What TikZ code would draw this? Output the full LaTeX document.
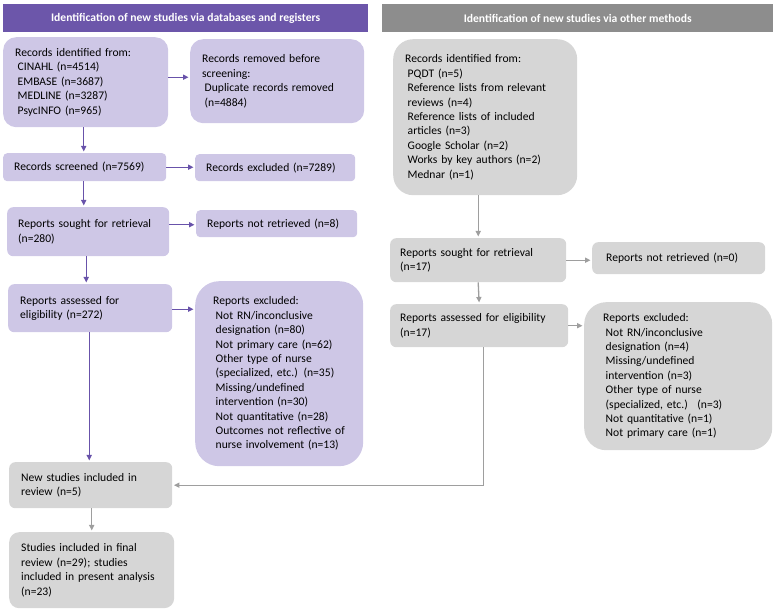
\documentclass[tikz,border=0pt]{standalone}
\usepackage{fontspec}
\setmainfont{Carlito}
\usetikzlibrary{arrows.meta, positioning, calc}

\definecolor{headpurple}{RGB}{108,86,170}
\definecolor{headgray}{RGB}{141,141,141}
\definecolor{boxpurple}{RGB}{206,199,230}
\definecolor{boxgray}{RGB}{214,214,214}
\definecolor{linepurple}{RGB}{104,82,170}
\definecolor{linegray}{RGB}{158,158,158}

\newcommand{\ind}{\hspace*{2.5pt}}

\begin{document}
\begin{tikzpicture}[x=1pt, y=-1pt,
    % Section header style
    headbox/.style={
        rectangle,
        anchor=north west,
        inner sep=0pt,
        minimum height=28pt,
        text=white,
        font=\fontsize{11.6}{13}\selectfont\bfseries
    },
    % Purple step box
    pbox/.style={
        rectangle,
        anchor=north west,
        rounded corners=4pt,
        fill=boxpurple,
        align=left,
        inner xsep=11pt,
        inner ysep=0pt,
        font=\fontsize{11.6}{14.4}\selectfont
    },
    % Gray step box
    gbox/.style={
        pbox,
        fill=boxgray
    },
    % Arrow styles
    parrow/.style={
        -{Triangle[length=5.5pt, width=5pt]},
        line width=1.3pt,
        linepurple,
        shorten >=1.5pt
    },
    garrow/.style={
        parrow,
        linegray
    }
]

\useasboundingbox (0,0) rectangle (780,609);

% === Headers ===
\node[headbox, fill=headpurple, minimum width=365pt] (dbhead) at (3,4) {Identification of new studies via databases and registers};
\node[headbox, fill=headgray, minimum width=391pt] (othhead) at (382,4) {Identification of new studies via other methods};

% === Databases and registers ===
\node[pbox, rounded corners=13pt, minimum width=165pt, minimum height=90pt, text width=141pt, inner xsep=12pt] (recdb) at (3,37)
    {Records identified from:\\ \ind CINAHL (n=4514)\\ \ind EMBASE (n=3687)\\ \ind MEDLINE (n=3287)\\ \ind PsycINFO (n=965)};
\node[pbox, rounded corners=13pt, minimum width=174pt, minimum height=84pt, text width=150pt, inner xsep=12pt] (removed) at (190,39)
    {Records removed before\\ screening:\\ \ind Duplicate records removed\\ \ind (n=4884)};
\node[pbox, minimum width=163pt, minimum height=28pt, text width=141pt] (screened) at (3,153) {Records screened (n=7569)};
\node[pbox, minimum width=160pt, minimum height=27pt, text width=138pt] (excluded) at (195,154) {Records excluded (n=7289)};
\node[pbox, rounded corners=6pt, minimum width=162pt, minimum height=49pt, text width=140pt] (sought) at (7,207) {Reports sought for retrieval\\ (n=280)};
\node[pbox, minimum width=161pt, minimum height=27pt, text width=139pt] (notret) at (196,210) {Reports not retrieved (n=8)};
\node[pbox, rounded corners=6pt, minimum width=162pt, minimum height=48pt, text width=140pt, inner xsep=12pt] (assessed) at (8,284) {Reports assessed for\\ eligibility (n=272)};
\node[pbox, rounded corners=24pt, minimum width=168pt, minimum height=185pt, text width=132pt, inner xsep=18pt] (rexcl) at (195,281)
    {Reports excluded:\\ \ind Not RN/inconclusive\\ \ind designation (n=80)\\ \ind Not primary care (n=62)\\ \ind Other type of nurse\\ \ind (specialized, etc.) (n=35)\\ \ind Missing/undefined\\ \ind intervention (n=30)\\ \ind Not quantitative (n=28)\\ \ind Outcomes not reflective of\\ \ind nurse involvement (n=13)};

% === Other methods ===
\node[gbox, rounded corners=20pt, minimum width=184pt, minimum height=156pt, text width=160pt, inner xsep=12pt] (recoth) at (393,39)
    {Records identified from:\\ \ind PQDT (n=5)\\ \ind Reference lists from relevant\\ \ind reviews (n=4)\\ \ind Reference lists of included\\ \ind articles (n=3)\\ \ind Google Scholar (n=2)\\ \ind Works by key authors (n=2)\\ \ind Mednar (n=1)};
\node[gbox, rounded corners=6pt, minimum width=176pt, minimum height=44pt, text width=156pt, inner xsep=10pt] (sought2) at (390,238) {Reports sought for retrieval\\ (n=17)};
\node[gbox, rounded corners=6pt, minimum width=173pt, minimum height=32pt, text width=145pt, inner xsep=14pt] (notret2) at (592,242) {Reports not retrieved (n=0)};
\node[gbox, rounded corners=6pt, minimum width=178pt, minimum height=43pt, text width=158pt, inner xsep=10pt] (assessed2) at (390,304) {Reports assessed for eligibility\\ (n=17)};
\node[gbox, rounded corners=22pt, minimum width=188pt, minimum height=148pt, text width=150pt, inner xsep=19pt] (rexcl2) at (584,302)
    {Reports excluded:\\ \ind Not RN/inconclusive\\ \ind designation (n=4)\\ \ind Missing/undefined\\ \ind intervention (n=3)\\ \ind Other type of nurse\\ \ind (specialized, etc.)~ (n=3)\\ \ind Not quantitative (n=1)\\ \ind Not primary care (n=1)};

% === Included ===
\node[gbox, rounded corners=6pt, minimum width=163pt, minimum height=46pt, text width=139pt, inner xsep=12pt] (newstud) at (9,462) {New studies included in\\ review (n=5)};
\node[gbox, rounded corners=10pt, minimum width=165pt, minimum height=76pt, text width=141pt, inner xsep=12pt] (final) at (9,532)
    {Studies included in final\\ review (n=29); studies\\ included in present analysis\\ (n=23)};

% === Arrows: databases and registers ===
\draw[parrow] ([xshift=-2pt]recdb.south) -- ([xshift=-2pt]recdb.south |- screened.north);
\draw[parrow] ([yshift=5pt]recdb.east) -- ([yshift=5pt]recdb.east -| removed.west);
\draw[parrow] (screened.east) -- (screened.east -| excluded.west);
\draw[parrow] ([xshift=-1pt]screened.south) -- ([xshift=-1pt]screened.south |- sought.north);
\draw[parrow] ([yshift=7pt]sought.east) -- ([yshift=7pt]sought.east -| notret.west);
\draw[parrow] ([xshift=-2pt]sought.south) -- ([xshift=-2pt]sought.south |- assessed.north);
\draw[parrow] ([yshift=-1pt]assessed.east) -- ([yshift=-1pt]assessed.east -| rexcl.west);
\draw[parrow] ([xshift=-1pt]assessed.south) -- ([xshift=-1pt]assessed.south |- newstud.north);

% === Arrows: other methods ===
\draw[garrow] (recoth.south -| sought2.south) -- (sought2.north);
\draw[garrow] (sought2.east) -- (sought2.east -| notret2.west);
\draw[garrow] (sought2.south) -- (assessed2.north);
\draw[garrow] (assessed2.east) -- (assessed2.east -| rexcl2.west);
\draw[garrow] ([xshift=4pt]assessed2.south) |- (newstud.east);
\draw[garrow] (newstud.south -| final.north) -- (final.north);

\end{tikzpicture}
\end{document}
